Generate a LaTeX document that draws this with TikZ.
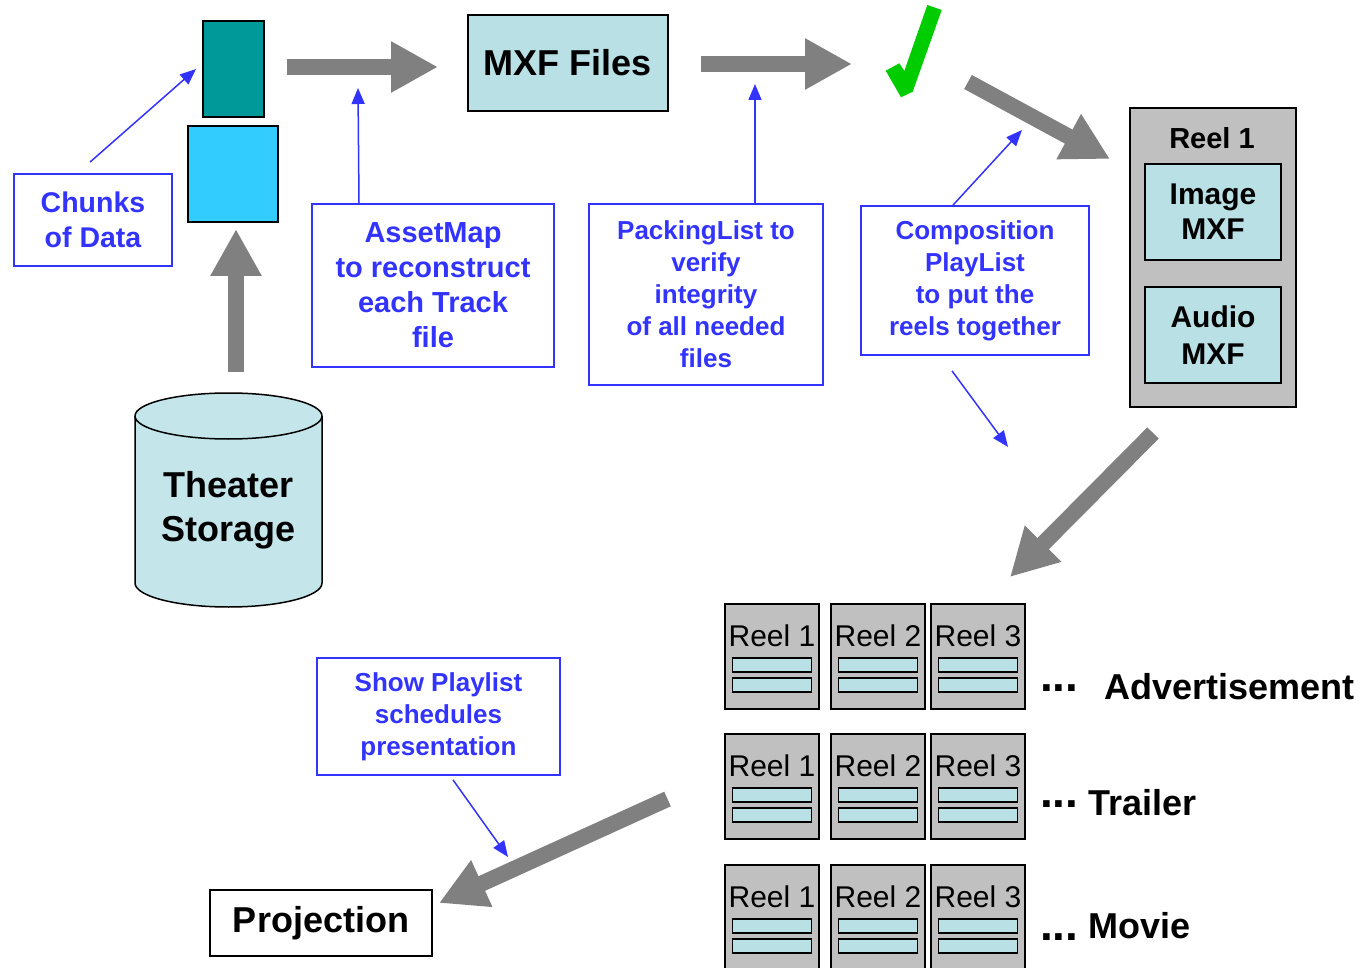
\documentclass[tikz,border=0pt]{standalone}
\usepackage{fontspec}
\setmainfont{Liberation Sans}
\usetikzlibrary{arrows.meta,calc}

\definecolor{callblue}{RGB}{51,51,255}
\definecolor{flowgray}{RGB}{128,128,128}
\definecolor{paleteal}{RGB}{185,224,228}
\definecolor{drumteal}{RGB}{196,230,234}
\definecolor{reelgray}{RGB}{192,192,192}
\definecolor{darkteal}{RGB}{0,153,153}
\definecolor{skycyan}{RGB}{51,204,255}
\definecolor{checkgreen}{RGB}{0,204,0}

\newcommand{\fsz}[2]{\fontsize{#1}{#2}\selectfont}

\tikzset{
  flow/.style={draw=flowgray, line width=16pt, -{Triangle[length=47pt,width=48pt]}},
  callout/.style={draw=callblue, line width=1.5pt, -{Triangle[length=16pt,width=13pt]}},
  note/.style={draw=callblue, line width=1.8pt, text=callblue, align=center, inner sep=0pt,
    font=\bfseries\fsz{26}{32}},
  box/.style={draw=black, line width=1.8pt, inner sep=0pt, align=center},
  reel/.style={box, fill=reelgray, line width=1.5pt},
  bar/.style={draw=black, line width=1.2pt, fill=paleteal, inner sep=0pt,
    minimum width=79pt, minimum height=14pt},
  tag/.style={inner sep=0pt, anchor=base west, font=\bfseries\fsz{36}{40}},
  dots/.style={inner sep=0pt, anchor=base west, font=\bfseries\fsz{46}{50}},
}

\begin{document}
\begin{tikzpicture}[x=1pt, y=-1pt]
\useasboundingbox (0,0) rectangle (1371,968);

% --- chunks of data and storage ---
\node[box, fill=darkteal, minimum width=61pt, minimum height=96pt] (chunkA) at (233.5,69) {};
\node[box, fill=skycyan, minimum width=90pt, minimum height=96pt] (chunkB) at (233,174) {};
\node[note, font=\bfseries\fsz{28.5}{35}, minimum width=158pt, minimum height=92pt] (chunks) at (93,220) {Chunks\\of Data};

% storage drum
\filldraw[fill=drumteal, draw=black, line width=1.5pt]
  (135,416) -- (135,583) arc[start angle=180, end angle=360, x radius=93.5pt, y radius=24pt]
  -- (322,416) arc[start angle=0, end angle=180, x radius=93.5pt, y radius=23pt] -- cycle;
\draw[line width=1.5pt] (135,416) arc[start angle=180, end angle=360, x radius=93.5pt, y radius=23pt];
\node[font=\bfseries\fsz{36}{44}, align=center, inner sep=0pt] (store) at (228.5,510) {Theater\\Storage};

% --- MXF files and notes ---
\node[box, fill=paleteal, minimum width=200pt, minimum height=96pt, font=\bfseries\fsz{36}{40}] (mxf) at (568,63) {MXF Files};
\node[note, font=\bfseries\fsz{29}{35}, minimum width=242pt, minimum height=163pt] (asset) at (433,285.5)
  {AssetMap\\to reconstruct\\each Track\\file};
\node[note, minimum width=234pt, minimum height=181pt] (packing) at (706,294.5)
  {PackingList to\\verify\\integrity\\of all needed\\files};
\node[note, minimum width=228pt, minimum height=149pt] (comp) at (975,280.5)
  {Composition\\PlayList\\to put the\\reels together};

% check mark
\fill[checkgreen] (885.7,70.7) -- (899.3,63.3) -- (904.3,71) -- (927.3,5) -- (941.7,10)
  -- (912.7,91.7) -- (901,97.3) -- cycle;

% --- reel 1 detail ---
\node[reel, line width=1.8pt, minimum width=166pt, minimum height=299pt] (reelbig) at (1213,257.5) {};
\node[font=\bfseries\fsz{29}{34}, inner sep=0pt, anchor=base] (reeltitle) at (1212,149) {Reel 1};
\node[box, fill=paleteal, minimum width=136pt, minimum height=96pt, font=\bfseries\fsz{30}{35}] (image) at (1213,212) {Image\\MXF};
\node[box, fill=paleteal, minimum width=136pt, minimum height=96pt, font=\bfseries\fsz{30}{37}] (audio) at (1213,335) {Audio\\MXF};

% --- reel sequences ---
\foreach \r/\ty in {1/603,2/733,3/864}{
  \foreach \c/\cx in {1/772,2/878,3/978}{
    \node[reel, minimum width=94pt, minimum height=105pt, anchor=north] (r\r c\c) at (\cx,\ty) {};
    \node[font=\fsz{30}{34}, inner sep=0pt, anchor=base] at ($(r\r c\c.north)+(0,43)$) {Reel \c};
    \node[bar] at ($(r\r c\c.north)+(0,62)$) {};
    \node[bar] at ($(r\r c\c.north)+(0,82)$) {};
  }
}
\node[dots] (advdots) at (1040,699) {\raisebox{8pt}{...}};
\node[tag] (adv) at (1104,699) {Advertisement};
\node[dots] (trldots) at (1040,815) {\raisebox{8pt}{...}};
\node[tag] (trl) at (1088,815) {Trailer};
\node[dots] (movdots) at (1040,940) {...};
\node[tag] (mov) at (1088,938) {Movie};

% --- show playlist and projection ---
\node[note, minimum width=243pt, minimum height=117pt] (show) at (438.5,716.5)
  {Show Playlist\\schedules\\presentation};
\node[box, minimum width=222pt, minimum height=66pt, font=\bfseries\fsz{36}{40}] (proj) at (321,923) {\raisebox{-4pt}{Projection}};

% --- flow arrows ---
\coordinate (upA) at (236,372);   \coordinate (upB) at (236,229);
\coordinate (f1a) at (287,67);    \coordinate (f1b) at (438,67);
\coordinate (f2a) at (701,64);    \coordinate (f2b) at (852,64);
\coordinate (f3a) at (968,82);    \coordinate (f3b) at (1110,159);
\coordinate (f4a) at (1153,433);  \coordinate (f4b) at (1010,577);
\coordinate (f5a) at (667.5,799); \coordinate (f5b) at (439,903);
\draw[flow] (upA) -- (upB);
\draw[flow] (f1a) -- (f1b);
\draw[flow] (f2a) -- (f2b);
\draw[flow] (f3a) -- (f3b);
\draw[flow] (f4a) -- (f4b);
\draw[flow] (f5a) -- (f5b);

% --- callout pointers ---
\coordinate (chunksTip) at (196,69);
\coordinate (assetTip) at (358,88);
\coordinate (packTip) at (755,84);
\coordinate (compUpTip) at (1022,130);
\coordinate (compDnTip) at (1008,447);
\coordinate (showTip) at (508,857);
\draw[callout] ($(chunks.north)+(-3,-11)$) -- (chunksTip);
\draw[callout] ($(asset.north)+(-74,0)$) -- (assetTip);
\draw[callout] ($(packing.north)+(49,0)$) -- (packTip);
\draw[callout] ($(comp.north)+(-22,0)$) -- (compUpTip);
\draw[callout] ($(comp.south)+(-23,15)$) -- (compDnTip);
\draw[callout] ($(show.south)+(14.5,4)$) -- (showTip);
\end{tikzpicture}
\end{document}
